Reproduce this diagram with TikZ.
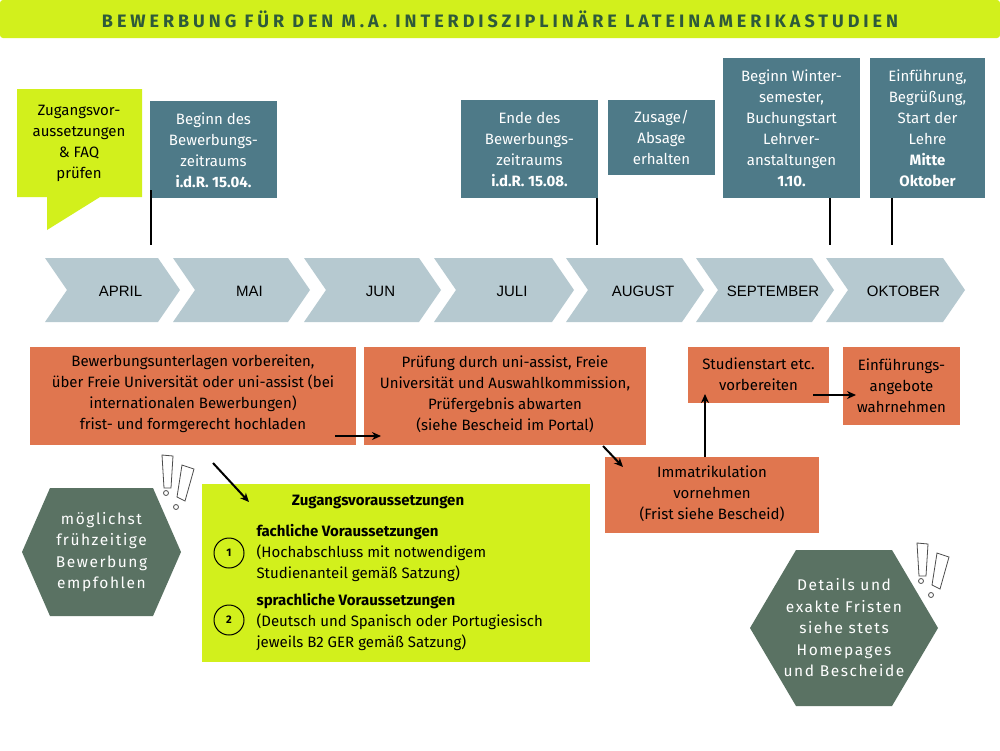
\documentclass[tikz,border=0pt]{standalone}
\usepackage{fontspec}
\setmainfont{Fira Sans}
\newfontfamily\arialf{Liberation Sans}
\usetikzlibrary{shapes.geometric,arrows.meta}
\definecolor{lime}{HTML}{D2F01C}
\definecolor{slate}{HTML}{4E7A88}
\definecolor{chev}{HTML}{B6C9D0}
\definecolor{orng}{HTML}{E0764F}
\definecolor{hexg}{HTML}{5A7263}
\definecolor{dgreen}{HTML}{2E5A3A}
\tikzset{
 fs/.style={font=\fontsize{15}{21}\selectfont},
 bluebox/.style={text=white,align=center,fs,inner sep=3pt},
 orbox/.style={text=black,align=center,fs,inner sep=3pt},
 pole/.style={line width=1.2pt,black},
 arr/.style={-{Stealth[length=9pt,width=8pt]},line width=2pt},
 mon/.style={font=\arialf\fontsize{15}{18}\selectfont},
 numc/.style={circle,draw,line width=1pt,minimum size=30pt,inner sep=0pt,font=\bfseries\fontsize{11}{12}\selectfont},
 hext/.style={text=white,align=center,font=\fontsize{15.5}{21.5}\selectfont\addfontfeature{LetterSpace=10}},
 excl/.style={draw=black!70,line width=0.8pt,fill=white}
}
\begin{document}
\begin{tikzpicture}[x=1pt,y=-1pt]
\useasboundingbox (0,0) rectangle (1000,750);
\fill[white] (0,0) rectangle (1000,750);
% header
\fill[lime,rounded corners=3pt] (0,0) rectangle (1000,38);
\node[text=dgreen,font=\bfseries\fontsize{18}{20}\selectfont\addfontfeature{LetterSpace=22}] (title) at (500,19) {BEWERBUNG FÜR DEN M.A. INTERDISZIPLINÄRE LATEINAMERIKASTUDIEN};
% callout
\fill[lime] (17,89) -- (142,89) -- (142,197) -- (100,197) -- (47,230) -- (47,197) -- (17,197) -- cycle;
\node[align=center,fs] (zug) at (79,143) {Zugangsvor-\\aussetzungen\\\& FAQ\\prüfen};
% blue boxes
\fill[slate] (150,101) rectangle (277,198);
\node[bluebox] (b1) at (213.5,150) {Beginn des\\Bewerbungs-\\zeitraums\\\textbf{i.d.R. 15.04.}};
\fill[slate] (461,100) rectangle (598,198);
\node[bluebox] (b2) at (529.5,149) {Ende des\\Bewerbungs-\\zeitraums\\\textbf{i.d.R. 15.08.}};
\fill[slate] (608,100) rectangle (715,175);
\node[bluebox] (b3) at (661.5,137.5) {Zusage/\\Absage\\erhalten};
\fill[slate] (723,58) rectangle (860,198);
\node[bluebox] (b4) at (791.5,128) {Beginn Winter-\\semester,\\Buchungstart\\Lehrver-\\anstaltungen\\\textbf{1.10.}};
\fill[slate] (870,58) rectangle (985,198);
\node[bluebox] (b5) at (927.5,128) {Einführung,\\Begrüßung,\\Start der\\Lehre\\\textbf{Mitte}\\\textbf{Oktober}};
\coordinate (p1) at (151,245); \draw[pole] (151,190) -- (p1);
\coordinate (p2) at (597,245); \draw[pole] (597,198) -- (p2);
\coordinate (p4) at (830,245); \draw[pole] (830,198) -- (p4);
\coordinate (p5) at (892,245); \draw[pole] (892,198) -- (p5);
% chevrons
\foreach \x/\w/\t [count=\i] in {45/135/APRIL,173/137/MAI,304/137/JUN,434/140/JULI,566/138/AUGUST,696/138/SEPTEMBER,826/139/OKTOBER}{
 \fill[chev] (\x,258) -- (\x+\w-22,258) -- (\x+\w,290) -- (\x+\w-22,322) -- (\x,322) -- (\x+22,290) -- cycle;
 \node[mon] (m\i) at (\x+\w/2+8,291) {\t};
}
% orange boxes
\fill[orng] (30,347) rectangle (356,445);
\node[orbox] (o1) at (193,394) {Bewerbungsunterlagen vorbereiten,\\über Freie Universität oder uni-assist (bei\\internationalen Bewerbungen)\\frist- und formgerecht hochladen};
\fill[orng] (364,347) rectangle (646,445);
\node[orbox] (o2) at (505,394) {Prüfung durch uni-assist, Freie\\Universität und Auswahlkommission,\\Prüfergebnis abwarten\\(siehe Bescheid im Portal)};
\fill[orng] (688,347) rectangle (829,403);
\node[orbox] (o3) at (758.5,374) {Studienstart etc.\\vorbereiten};
\fill[orng] (843,347) rectangle (960,425);
\node[orbox] (o4) at (901.5,386) {Einführungs-\\angebote\\wahrnehmen};
\fill[orng] (605,457) rectangle (819,533);
\node[orbox] (o5) at (712,494) {Immatrikulation\\vornehmen\\(Frist siehe Bescheid)};
% lime box
\fill[lime] (202,484) rectangle (590,662);
\node[font=\bfseries\fontsize{15}{18}\selectfont] (zt) at (378,502) {Zugangsvoraussetzungen};
\node[numc] (n1) at (229,553) {1};
\node[numc] (n2) at (229,620) {2};
\node[anchor=west,align=left,fs] (t1) at (253,553) {\textbf{fachliche Voraussetzungen}\\(Hochabschluss mit notwendigem\\Studienanteil gemäß Satzung)};
\node[anchor=west,align=left,fs] (t2) at (253,622) {\textbf{sprachliche Voraussetzungen}\\(Deutsch und Spanisch oder Portugiesisch\\jeweils B2 GER gemäß Satzung)};
% arrows
\coordinate (a1s) at (335,436); \coordinate (a1e) at (381,436);
\draw[arr] (a1s) -- (a1e);
\coordinate (a2s) at (603,446); \coordinate (a2e) at (623,467);
\draw[arr] (a2s) -- (a2e);
\coordinate (a3s) at (705,457); \coordinate (a3e) at (705,394);
\draw[arr] (a3s) -- (a3e);
\coordinate (a4s) at (813,395); \coordinate (a4e) at (856,395);
\draw[arr] (a4s) -- (a4e);
\coordinate (a5s) at (213,463); \coordinate (a5e) at (249,502);
\draw[arr] (a5s) -- (a5e);
% hexagons
\fill[hexg] (22,552) -- (50,488) -- (153,488) -- (181,552) -- (153,616) -- (50,616) -- cycle;
\node[hext] (h1) at (101.5,552) {möglichst\\frühzeitige\\Bewerbung\\empfohlen};
\fill[hexg] (750,628) -- (796,550) -- (892,550) -- (938,628) -- (892,706) -- (796,706) -- cycle;
\node[hext] (h2) at (844,628) {Details und\\exakte Fristen\\siehe stets\\Homepages\\und Bescheide};
% exclamation marks
\foreach \cx/\cy in {160/455, 915/543}{
 \draw[excl] (\cx+2,\cy) -- (\cx+13,\cy+1) -- (\cx+11,\cy+33) -- (\cx+4,\cy+33) -- cycle;
 \draw[excl] (\cx+6,\cy+38) circle (2.5);
 \draw[excl] (\cx+22,\cy+10) -- (\cx+34,\cy+14) -- (\cx+25,\cy+46) -- (\cx+17,\cy+42) -- cycle;
 \draw[excl] (\cx+16,\cy+52) circle (2.5);
}
\end{tikzpicture}
\end{document}
